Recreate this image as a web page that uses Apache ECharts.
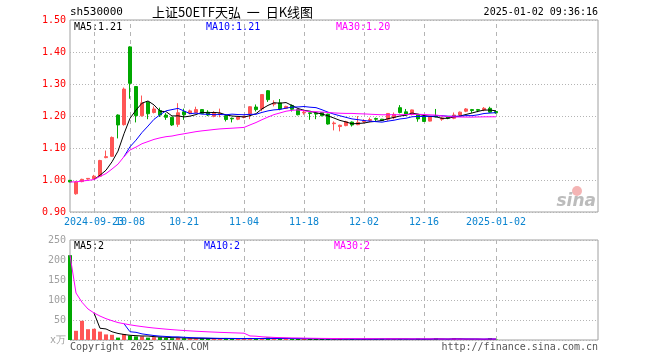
<!DOCTYPE html>
<html><head><meta charset="utf-8">
<script src="https://cdn.jsdelivr.net/npm/echarts@6/dist/echarts.min.js"></script>
<style>html,body{margin:0;padding:0;background:#fff}#c{width:660px;height:360px}</style>
</head><body><div id="c"></div>
<script>
// ---- data ----
const dates = [
'2024-09-13','2024-09-18','2024-09-19','2024-09-20','2024-09-23','2024-09-24','2024-09-25','2024-09-26','2024-09-27','2024-09-30',
'2024-10-08','2024-10-09','2024-10-10','2024-10-11','2024-10-14','2024-10-15','2024-10-16','2024-10-17','2024-10-18','2024-10-21',
'2024-10-22','2024-10-23','2024-10-24','2024-10-25','2024-10-28','2024-10-29','2024-10-30','2024-10-31','2024-11-01','2024-11-04',
'2024-11-05','2024-11-06','2024-11-07','2024-11-08','2024-11-11','2024-11-12','2024-11-13','2024-11-14','2024-11-15','2024-11-18',
'2024-11-19','2024-11-20','2024-11-21','2024-11-22','2024-11-25','2024-11-26','2024-11-27','2024-11-28','2024-11-29','2024-12-02',
'2024-12-03','2024-12-04','2024-12-05','2024-12-06','2024-12-09','2024-12-10','2024-12-11','2024-12-12','2024-12-13','2024-12-16',
'2024-12-17','2024-12-18','2024-12-19','2024-12-20','2024-12-23','2024-12-24','2024-12-25','2024-12-26','2024-12-27','2024-12-30',
'2024-12-31','2025-01-02'];
const emptySlots = 17; // blank room on the right of the chart

// [open, close, low, high]
const candles = [
[0.999,0.994,0.993,1.000],[0.957,0.994,0.954,0.997],[0.995,1.002,0.993,1.004],[1.003,1.005,1.001,1.006],[1.004,1.012,1.002,1.016],
[1.012,1.061,1.010,1.063],[1.070,1.073,1.068,1.092],[1.074,1.133,1.072,1.136],[1.203,1.172,1.130,1.205],[1.173,1.284,1.170,1.289],
[1.416,1.302,1.254,1.418],[1.292,1.201,1.180,1.293],[1.201,1.241,1.198,1.264],[1.243,1.207,1.190,1.245],[1.211,1.222,1.208,1.230],
[1.217,1.203,1.197,1.226],[1.203,1.196,1.188,1.209],[1.196,1.172,1.169,1.197],[1.174,1.210,1.166,1.240],[1.213,1.204,1.188,1.223],
[1.209,1.216,1.205,1.220],[1.211,1.220,1.209,1.229],[1.220,1.208,1.207,1.221],[1.212,1.203,1.200,1.218],[1.199,1.209,1.196,1.215],
[1.205,1.208,1.196,1.223],[1.201,1.189,1.183,1.204],[1.193,1.191,1.180,1.195],[1.190,1.197,1.187,1.199],[1.196,1.199,1.193,1.201],
[1.207,1.229,1.190,1.231],[1.228,1.220,1.214,1.236],[1.222,1.267,1.215,1.268],[1.279,1.251,1.244,1.281],[1.237,1.240,1.230,1.249],
[1.241,1.222,1.218,1.253],[1.224,1.230,1.222,1.232],[1.233,1.221,1.214,1.236],[1.220,1.204,1.202,1.222],[1.210,1.212,1.204,1.220],
[1.210,1.208,1.188,1.211],[1.209,1.206,1.190,1.210],[1.211,1.201,1.199,1.212],[1.206,1.175,1.173,1.207],[1.176,1.178,1.155,1.183],
[1.167,1.171,1.152,1.173],[1.170,1.182,1.168,1.185],[1.181,1.172,1.167,1.183],[1.173,1.180,1.171,1.200],[1.182,1.185,1.178,1.190],
[1.186,1.189,1.181,1.195],[1.192,1.190,1.184,1.195],[1.190,1.186,1.184,1.191],[1.190,1.208,1.185,1.209],[1.195,1.205,1.190,1.211],
[1.226,1.211,1.208,1.234],[1.213,1.203,1.200,1.222],[1.205,1.219,1.202,1.220],[1.205,1.191,1.182,1.206],[1.198,1.183,1.182,1.200],
[1.184,1.198,1.183,1.199],[1.200,1.197,1.196,1.222],[1.190,1.194,1.185,1.198],[1.197,1.193,1.190,1.199],[1.193,1.203,1.190,1.211],
[1.203,1.212,1.200,1.214],[1.215,1.222,1.212,1.225],[1.220,1.217,1.210,1.222],[1.220,1.218,1.212,1.222],[1.219,1.224,1.215,1.228],
[1.224,1.212,1.210,1.229],[1.214,1.210,1.207,1.216]];

// volume (万)
const volumes = [
212,23,48,27,28,21,14,13,6,15,
11,9,9,6,7,7,5,4.5,5,4.5,
3.5,3.5,4.5,3.5,3.5,3,4.5,3.5,3.5,3,
4.5,3.5,4.5,6,3,4,3,2.5,3,2.5,
2.5,2.5,2.5,3,2,2.5,2,2.5,2,2.5,
2,2,3.5,3.5,2,2,1.5,2,3.5,1.5,
1.5,5,1.5,1.5,5,2,1.5,1.5,1.5,1.5,
5,1];

const tickDates  = ['2024-09-23','2024-10-08','2024-10-21','2024-11-04','2024-11-18','2024-12-02','2024-12-16','2025-01-02'];
const tickLabels = ['2024-09-23','10-08','10-21','11-04','11-18','12-02','12-16','2025-01-02'];

const priceMin = 0.90, priceMax = 1.50, priceStep = 0.10;
const volMin = 0, volMax = 250, volStep = 50;

const titleCode = 'sh530000';
const titleText = '上证50ETF天弘  一  日K线图';
const stampText = '2025-01-02 09:36:16';
const priceLegend = ['MA5:1.21', 'MA10:1.21', 'MA30:1.20'];
const volLegend = ['MA5:2', 'MA10:2', 'MA30:2'];
const footLeft = 'Copyright 2025 SINA.COM';
const footRight = 'http://finance.sina.com.cn';
const volUnit = 'x万';

// ---- build ----
const UP = '#ff5555', DOWN = '#00a800';
const MONO = '"DejaVu Sans Mono", "Liberation Mono", monospace';
const cats = dates.concat(Array.from({length: emptySlots}, (_, i) => 'pad' + i));
const labelMap = {};
tickDates.forEach((d, i) => labelMap[d] = tickLabels[i]);
const tickIdxList = tickDates.map(d => dates.indexOf(d));
const firstSet = new Set(tickIdxList.slice(0, 1));
const restSet = new Set(tickIdxList.slice(1));

const closes = candles.map(c => c[1]);
function ma(arr, n, cumulative) {
  return arr.map((_, i) => {
    if (!cumulative && i < n - 1) return '-';
    const s = Math.max(0, i - n + 1);
    let sum = 0;
    for (let k = s; k <= i; k++) sum += arr[k];
    return +(sum / (i - s + 1)).toFixed(4);
  });
}
const volData = volumes.map((v, i) => ({
  value: v,
  itemStyle: {color: candles[i][1] >= candles[i][0] ? UP : DOWN}
}));

const gridLine = '#b4b4b4';
function xAxisCfg(gi, labelSet) {
  return {
    type: 'category', gridIndex: gi, data: cats, boundaryGap: false, position: 'bottom',
    axisLine: {show: false}, axisTick: {show: false}, splitLine: {show: false},
    axisLabel: {
      show: !!labelSet, interval: (i) => !!labelSet && labelSet.has(i),
      showMinLabel: true, showMaxLabel: true, hideOverlap: false,
      formatter: (v) => labelMap[v] || '',
      color: '#0a84d0', fontFamily: MONO, fontSize: 10, margin: 5
    }
  };
}
const vLines = {
  silent: true, symbol: ['none', 'none'], animation: false, z: 1,
  label: {show: false},
  lineStyle: {color: gridLine, type: [4, 4], width: 1},
  emphasis: {disabled: true},
  data: tickDates.map(d => ({xAxis: d}))
};
const emptyLine = dates.map(() => '-');

const chart = echarts.init(document.getElementById('c'), null, {renderer: 'canvas'});
const lineCommon = {type: 'line', symbol: 'none', animation: false, lineStyle: {width: 1}, z: 5};

chart.setOption({
  animation: false,
  backgroundColor: '#fff',
  grid: [
    {left: 70, right: 62, top: 20, height: 192, show: true, borderColor: '#a0a0a0', borderWidth: 1},
    {left: 70, right: 62, top: 240, height: 100, show: true, borderColor: '#a0a0a0', borderWidth: 1}
  ],
  xAxis: [xAxisCfg(0, restSet), xAxisCfg(1, null), xAxisCfg(0, firstSet)],
  yAxis: [
    {type: 'value', gridIndex: 0, min: priceMin, max: priceMax, interval: priceStep,
     axisLine: {show: false}, axisTick: {show: false},
     axisLabel: {formatter: v => v.toFixed(2), color: '#ff0000', fontFamily: MONO, fontSize: 10, margin: 4},
     splitLine: {lineStyle: {color: gridLine, type: [1, 2]}}},
    {type: 'value', gridIndex: 1, min: volMin, max: volMax, interval: volStep,
     axisLine: {show: false}, axisTick: {show: false},
     axisLabel: {formatter: v => v === 0 ? volUnit : String(v), color: '#a0a0a0', fontFamily: MONO, fontSize: 10, margin: 4},
     splitLine: {lineStyle: {color: gridLine, type: [1, 2]}}}
  ],
  series: [
    // helper series carrying the dashed date gridlines beneath the marks
    {type: 'line', xAxisIndex: 0, yAxisIndex: 0, data: emptyLine, symbol: 'none', z: 1, silent: true, markLine: vLines},
    {type: 'line', xAxisIndex: 1, yAxisIndex: 1, data: emptyLine, symbol: 'none', z: 1, silent: true, markLine: vLines},
    {type: 'candlestick', xAxisIndex: 0, yAxisIndex: 0, data: candles.map(c => [c[0], c[1], c[2], c[3]]),
     barWidth: 4, clip: false, z: 3,
     itemStyle: {color: UP, color0: DOWN, borderColor: UP, borderColor0: DOWN, borderWidth: 1}},
    Object.assign({}, lineCommon, {xAxisIndex: 0, yAxisIndex: 0, data: ma(closes, 5, false), lineStyle: {width: 1, color: '#000'}, itemStyle: {color: '#000'}}),
    Object.assign({}, lineCommon, {xAxisIndex: 0, yAxisIndex: 0, data: ma(closes, 10, false), lineStyle: {width: 1, color: '#0000ff'}, itemStyle: {color: '#0000ff'}}),
    Object.assign({}, lineCommon, {xAxisIndex: 0, yAxisIndex: 0, data: ma(closes, 30, true), lineStyle: {width: 1, color: '#ff00ff'}, itemStyle: {color: '#ff00ff'}}),
    {type: 'bar', xAxisIndex: 1, yAxisIndex: 1, data: volData, barWidth: 4, clip: false, z: 3},
    Object.assign({}, lineCommon, {xAxisIndex: 1, yAxisIndex: 1, data: ma(volumes, 5, false), lineStyle: {width: 1, color: '#000'}, itemStyle: {color: '#000'}}),
    Object.assign({}, lineCommon, {xAxisIndex: 1, yAxisIndex: 1, data: ma(volumes, 10, false), lineStyle: {width: 1, color: '#0000ff'}, itemStyle: {color: '#0000ff'}}),
    Object.assign({}, lineCommon, {xAxisIndex: 1, yAxisIndex: 1, data: ma(volumes, 30, true), lineStyle: {width: 1, color: '#ff00ff'}, itemStyle: {color: '#ff00ff'}})
  ],
  graphic: [
    {type: 'text', x: 70, y: 12, style: {text: titleCode, fill: '#000', font: '11px ' + MONO, textAlign: 'left', textVerticalAlign: 'middle'}},
    {type: 'text', x: 152, y: 12, style: {text: titleText, fill: '#000', font: '13px "Noto Sans CJK SC"', textAlign: 'left', textVerticalAlign: 'middle'}},
    {type: 'text', x: 598, y: 12, style: {text: stampText, fill: '#000', font: '10px ' + MONO, textAlign: 'right', textVerticalAlign: 'middle'}},
    {type: 'text', x: 74, y: 27, style: {text: priceLegend[0], fill: '#000', font: '10px ' + MONO, textVerticalAlign: 'middle'}},
    {type: 'text', x: 206, y: 27, style: {text: priceLegend[1], fill: '#0000ff', font: '10px ' + MONO, textVerticalAlign: 'middle'}},
    {type: 'text', x: 336, y: 27, style: {text: priceLegend[2], fill: '#ff00ff', font: '10px ' + MONO, textVerticalAlign: 'middle'}},
    {type: 'text', x: 74, y: 246, style: {text: volLegend[0], fill: '#000', font: '10px ' + MONO, textVerticalAlign: 'middle'}},
    {type: 'text', x: 204, y: 246, style: {text: volLegend[1], fill: '#0000ff', font: '10px ' + MONO, textVerticalAlign: 'middle'}},
    {type: 'text', x: 334, y: 246, style: {text: volLegend[2], fill: '#ff00ff', font: '10px ' + MONO, textVerticalAlign: 'middle'}},
    {type: 'text', x: 70, y: 347, style: {text: footLeft, fill: '#555', font: '10px ' + MONO, textVerticalAlign: 'middle'}},
    {type: 'text', x: 598, y: 347, style: {text: footRight, fill: '#555', font: '10px ' + MONO, textAlign: 'right', textVerticalAlign: 'middle'}},
    {type: 'circle', shape: {cx: 577, cy: 191, r: 5}, style: {fill: '#f4b4b4'}},
    {type: 'text', x: 596, y: 202, style: {text: 'sina', fill: '#bcbcbc', font: 'italic bold 17px "DejaVu Sans"', textAlign: 'right', textVerticalAlign: 'middle'}}
  ]
});
</script></body></html>
